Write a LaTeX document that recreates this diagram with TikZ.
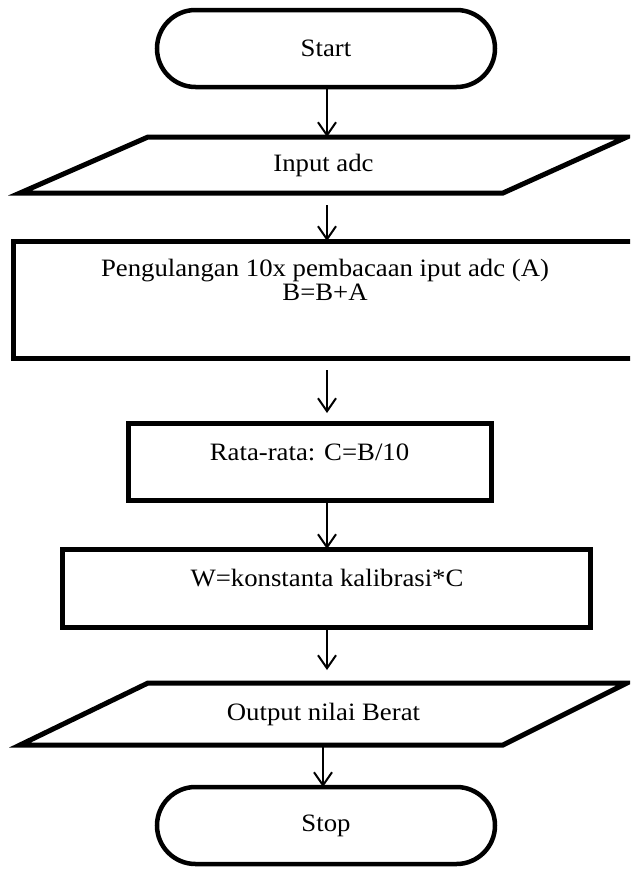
\documentclass[tikz,border=0pt]{standalone}
\usepackage{fontspec}
\setmainfont{Liberation Serif}[FakeStretch=1.07]
\usetikzlibrary{shapes.misc,arrows.meta,calc}

\begin{document}
\begin{tikzpicture}
[x=1pt,y=-1pt,font=\fontsize{25}{24}\selectfont,
terminal/.style = {draw, line width=4.5pt, rounded rectangle, minimum width=338pt, minimum height=77pt, inner sep=0pt, outer sep=0pt},
iobox/.style = {rectangle, minimum width=607pt, inner sep=0pt, outer sep=0pt},
io/.style = {line width=5pt, line join=miter},
proses/.style = {draw, line width=5pt, rectangle, inner sep=0pt, outer sep=0pt},
teks/.style = {inner sep=0pt, align=center},
panah/.style = {-{Straight Barb[length=13pt,width=18pt]}, line width=2pt},]
\clip (0,0) rectangle (630,870);
\node (start) at (326,48.5)[terminal] {Start};
\node (input) at (323.5,165)[iobox, minimum height=56pt] {Input adc};
\draw [io] ($(input.north west)+(128,0)$) -- (input.north east) -- ($(input.south east)-(124,0)$) -- (input.south west) -- cycle;
\node (ulang) at (325,299.5)[proses, minimum width=624pt, minimum height=117pt] {};
\node (ulangteks) at (325,280)[teks] {Pengulangan 10x pembacaan iput adc (A)\\B=B+A};
\node (rata) at (309.5,461.5)[proses, minimum width=363pt, minimum height=77pt] {};
\node (rateks) at (309.5,452)[teks] {Rata-rata: C=B/10};
\node (kali) at (326,588)[proses, minimum width=528pt, minimum height=78pt] {};
\node (kaliteks) at (327,578)[teks] {W=konstanta kalibrasi*C};
\node (output) at (323.5,714)[iobox, minimum height=62pt] {Output nilai Berat};
\draw [io] ($(output.north west)+(128,0)$) -- (output.north east) -- ($(output.south east)-(124,0)$) -- (output.south west) -- cycle;
\node (stop) at (326,825.5)[terminal] {Stop};
\coordinate (sumbu) at (327,0);
\coordinate (sumbuakhir) at (323,0);
\draw [panah] (sumbu |- start.south) -- (sumbu |- input.north);
\draw [panah, shorten <=12pt] (sumbu |- input.south) -- (sumbu |- ulang.north);
\draw [panah, shorten <=12pt, shorten >=10pt] (sumbu |- ulang.south) -- (sumbu |- rata.north);
\draw [panah] (sumbu |- rata.south) -- (sumbu |- kali.north);
\draw [panah, shorten >=13pt] (sumbu |- kali.south) -- (sumbu |- output.north);
\draw [panah] (sumbuakhir |- output.south) -- (sumbuakhir |- stop.north);
\end{tikzpicture}
\end{document}
